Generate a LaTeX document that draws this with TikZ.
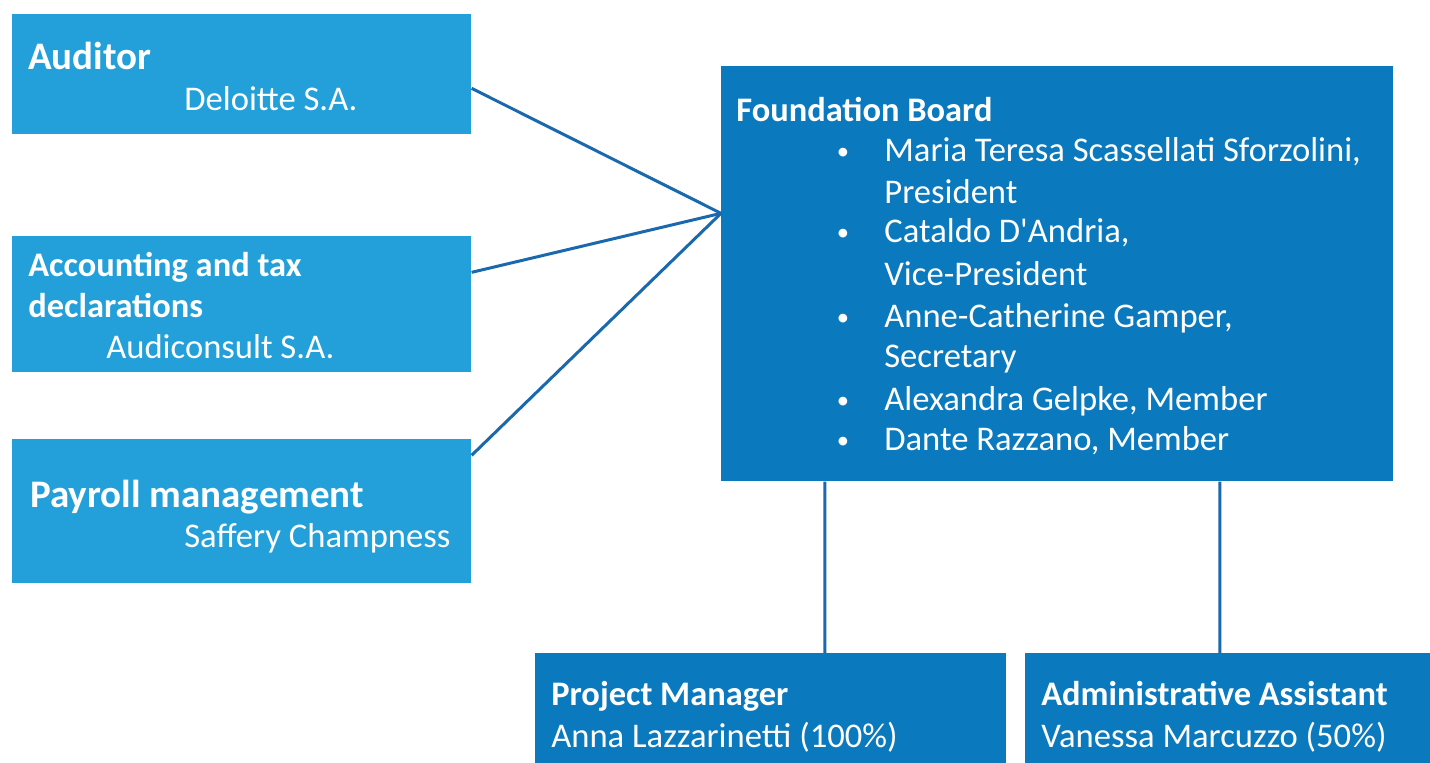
\documentclass[tikz,border=0pt]{standalone}
\usepackage{fontspec}
\setmainfont{Carlito}
\definecolor{boxlight}{HTML}{23A0DA}
\definecolor{boxdark}{HTML}{0B79BD}
\definecolor{linkblue}{HTML}{1A68AD}
\tikzset{
  lightbox/.style={fill=boxlight, draw=none, rectangle, anchor=north west, inner sep=0pt},
  darkbox/.style={fill=boxdark, draw=none, rectangle, anchor=north west, inner sep=0pt},
  txt/.style={text=white, anchor=base west, inner sep=0pt, font=\fontsize{19.7}{23.5}\selectfont},
  hdr/.style={txt, font=\fontsize{19.6}{23.5}\selectfont\bfseries},
  bighdr/.style={txt, font=\fontsize{22.2}{26}\selectfont\bfseries},
  dot/.style={txt, anchor=base, font=\fontsize{14}{16}\selectfont},
  link/.style={draw=linkblue, line width=1.7pt}
}
\begin{document}
\begin{tikzpicture}[x=0.02cm, y=-0.02cm]
\useasboundingbox (0,0) rectangle (1430,763);

% left column: service providers
\node[lightbox, minimum width=9.18cm, minimum height=2.4cm] (auditor) at (12,14) {};
\node[lightbox, minimum width=9.18cm, minimum height=2.72cm] (account) at (12,236) {};
\node[lightbox, minimum width=9.18cm, minimum height=2.88cm] (payroll) at (12,439) {};

\node[bighdr] (audT) at (28,70) {Auditor};
\node[txt] (audS) at (184,111) {Deloitte S.A.};
\node[hdr] (accT1) at (28,277) {Accounting and tax};
\node[hdr] (accT2) at (28,318) {declarations};
\node[txt] (accS) at (106,359) {Audiconsult S.A.};
\node[bighdr] (payT) at (30,507) {Payroll management};
\node[txt] (payS) at (184,547) {Saffery Champness};

% board
\node[darkbox, minimum width=13.44cm, minimum height=8.3cm] (board) at (721,66) {};
\node[hdr] (boardT) at (736,122) {Foundation Board};

\node[dot] (b1) at (843,160) {\textbullet};
\node[txt] (m1) at (884,162) {Maria Teresa Scassellati Sforzolini,};
\node[txt] (m1b) at (884,204) {President};
\node[dot] (b2) at (843,241) {\textbullet};
\node[txt] (m2) at (884,243) {Cataldo D\textquotesingle Andria,};
\node[txt] (m2b) at (884,286) {Vice-President};
\node[dot] (b3) at (843,326) {\textbullet};
\node[txt] (m3) at (884,328) {Anne-Catherine Gamper,};
\node[txt] (m3b) at (884,368) {Secretary};
\node[dot] (b4) at (843,409) {\textbullet};
\node[txt] (m4) at (884,411) {Alexandra Gelpke, Member};
\node[dot] (b5) at (843,448) {\textbullet};
\node[txt] (m5) at (884,450) {Dante Razzano, Member};

% staff
\node[darkbox, minimum width=9.42cm, minimum height=2.4cm] (pm) at (535,653) {};
\node[darkbox, minimum width=8.5cm, minimum height=2.4cm] (admin) at (1025,653) {};
\node[hdr] (pmT) at (551,705) {Project Manager};
\node[txt] (pmS) at (551,747) {Anna Lazzarinetti (100\%)};
\node[hdr] (adT) at (1041,705) {Administrative Assistant};
\node[txt] (adS) at (1041,747) {Vanessa Marcuzzo (50\%)};

% connectors
\draw[link] ([yshift=-0.28cm]auditor.east) -- ([yshift=1.21cm]board.west);
\draw[link] ([yshift=0.64cm]account.east) -- ([yshift=1.21cm]board.west);
\draw[link] ([yshift=1.12cm]payroll.east) -- ([yshift=1.21cm]board.west);
\draw[link] ([xshift=2.08cm]board.south west) -- ([xshift=5.8cm]pm.north west);
\draw[link] ([xshift=9.98cm]board.south west) -- ([xshift=3.9cm]admin.north west);
\end{tikzpicture}
\end{document}
